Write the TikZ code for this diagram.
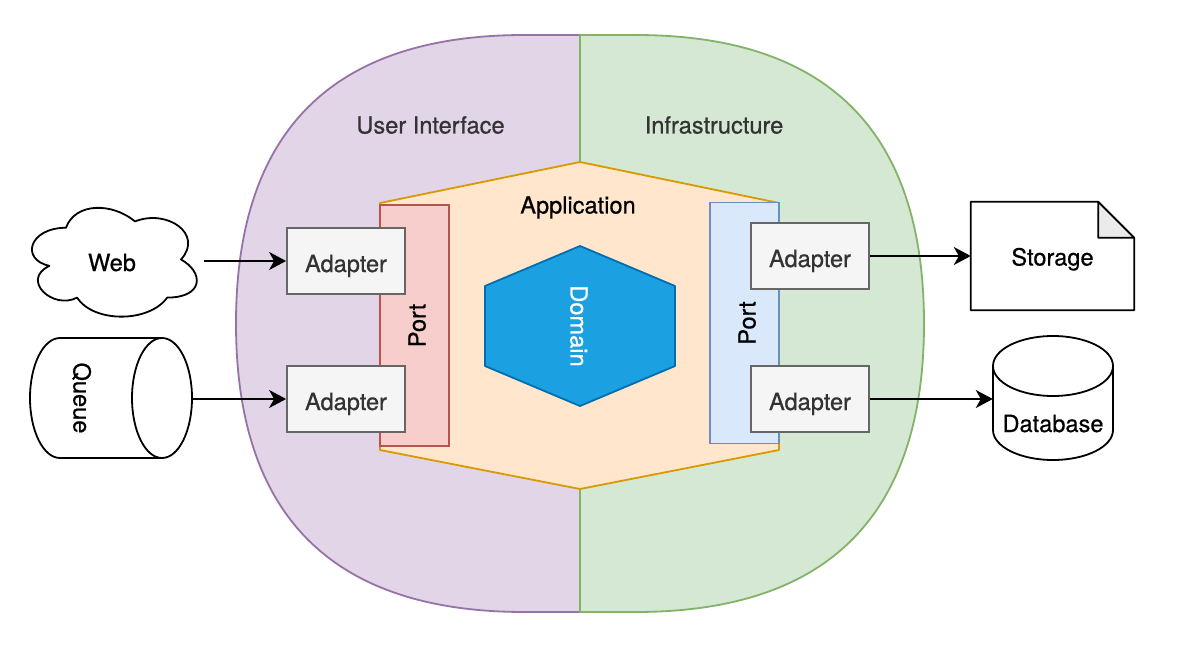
\documentclass[tikz,border=0pt]{standalone}
\usepackage{fontspec}
\setmainfont{TeX Gyre Heros}[FakeBold=0.6]
\usetikzlibrary{arrows.meta}
\definecolor{uiFill}{HTML}{E1D5E7}
\definecolor{uiLine}{HTML}{9673A6}
\definecolor{inFill}{HTML}{D5E8D4}
\definecolor{inLine}{HTML}{82B366}
\definecolor{apFill}{HTML}{FFE6CC}
\definecolor{apLine}{HTML}{D79B00}
\definecolor{prFill}{HTML}{F8CECC}
\definecolor{prLine}{HTML}{B85450}
\definecolor{pbFill}{HTML}{DAE8FC}
\definecolor{pbLine}{HTML}{6C8EBF}
\definecolor{doFill}{HTML}{1BA1E2}
\definecolor{doLine}{HTML}{006EAF}
\definecolor{adFill}{HTML}{F5F5F5}
\definecolor{adLine}{HTML}{666666}
\definecolor{txtGrey}{HTML}{333333}
\definecolor{foldFill}{HTML}{EBEBEB}
\begin{document}
\begin{tikzpicture}[x=1pt,y=-1pt,
  every node/.style={font=\fontsize{23.6pt}{28pt}\selectfont, inner sep=0pt,
    text height=27pt, text depth=5pt},
  shapeline/.style={line width=1.8pt, line join=round},
  adapterbox/.style={draw=adLine, fill=adFill, text=txtGrey, line width=1.8pt,
    minimum width=118pt, minimum height=66pt},
  portbox/.style={line width=1.8pt, minimum width=241pt, minimum height=69pt, rotate=90},
  ghost/.style={draw=none, fill=none},
  arr/.style={line width=2pt, -{Stealth[length=17pt,width=18pt,inset=5pt]}},
  outline/.style={draw=black, line width=1.8pt, fill=white, line join=round}]
\useasboundingbox (0,0) rectangle (1191,647);
\fill[white] (0,0) rectangle (1191,647);

% outer halves
\draw[shapeline, draw=uiLine, fill=uiFill] (580,35) -- (524.5,35)
  .. controls (332.17,35) and (236,131.17) .. (236,323.5)
  .. controls (236,515.83) and (332.17,612) .. (524.5,612) -- (580,612) -- cycle;
\draw[shapeline, draw=inLine, fill=inFill] (580,35) -- (635.5,35)
  .. controls (827.83,35) and (924,131.17) .. (924,323.5)
  .. controls (924,515.83) and (827.83,612) .. (635.5,612) -- (580,612) -- cycle;
\node[text=txtGrey] (ui) at (430.5,122.5) {User Interface};
\node[text=txtGrey] (infra) at (714,122.5) {Infrastructure};

% application hexagon
\draw[shapeline, draw=apLine, fill=apFill] (580,162) -- (779,203) -- (779,450)
  -- (580,489) -- (380,450) -- (380,203) -- cycle;
\node (app) at (578,202.5) {Application};

% ports
\node[portbox, draw=prLine, fill=prFill] (portL) at (414.5,325.5) {Port};
\node[portbox, draw=pbLine, fill=pbFill] (portR) at (744.5,323) {Port};

% domain
\draw[shapeline, draw=doLine, fill=doFill] (580,246) -- (675,286) -- (675,366)
  -- (580,406) -- (485,366) -- (485,286) -- cycle;
\node[text=white, rotate=-90] (domain) at (581.5,326) {Domain};

% adapters
\node[adapterbox] (adL1) at (346,261) {Adapter};
\node[adapterbox] (adL2) at (346,399) {Adapter};
\node[adapterbox] (adR1) at (810,256) {Adapter};
\node[adapterbox] (adR2) at (810,399) {Adapter};

% web cloud
\draw[outline] (66,227.75) .. controls (29.2,227.75) and (20,259.5) .. (49.44,265.85)
  .. controls (20,279.82) and (53.12,310.3) .. (77.04,297.6)
  .. controls (93.6,323) and (148.8,323) .. (167.2,297.6)
  .. controls (204,297.6) and (204,272.2) .. (181,259.5)
  .. controls (204,234.1) and (167.2,208.7) .. (135,221.4)
  .. controls (112,202.35) and (75.2,202.35) .. (66,227.75) -- cycle;
\node[ghost, minimum width=184pt, minimum height=127pt] (web) at (112,260) {Web};

% queue cylinder (horizontal)
\node[ghost, minimum width=162pt, minimum height=120pt] (queue) at (111,398) {};
\draw[outline] (162,338) -- (60,338)
  arc[start angle=90, end angle=270, x radius=30pt, y radius=60pt]
  -- (162,458) arc[start angle=-90, end angle=90, x radius=30pt, y radius=60pt] -- cycle;
\draw[line width=1.8pt] (162,338) arc[start angle=90, end angle=270, x radius=30pt, y radius=60pt];
\node[rotate=-90] (queuetext) at (84.5,398) {Queue};

% storage note
\node[ghost, minimum width=163pt, minimum height=108pt] (storage) at (1052.5,256) {};
\draw[outline] (storage.north west) -- ([xshift=-36pt]storage.north east)
  -- ([yshift=-36pt]storage.north east) -- (storage.south east) -- (storage.south west) -- cycle;
\draw[outline, fill=foldFill] ([xshift=-36pt]storage.north east) -- ([xshift=-36pt,yshift=-36pt]storage.north east)
  -- ([yshift=-36pt]storage.north east) -- cycle;
\node (storagetext) at (1052.5,254.5) {Storage};

% database cylinder
\node[ghost, minimum width=120pt, minimum height=124pt] (db) at (1053,398) {};
\draw[outline] (993,366) -- (993,430)
  arc[start angle=180, end angle=360, x radius=60pt, y radius=30pt]
  -- (1113,366) arc[start angle=0, end angle=180, x radius=60pt, y radius=30pt] -- cycle;
\draw[line width=1.8pt] (993,366) arc[start angle=180, end angle=360, x radius=60pt, y radius=30pt];
\node (dbtext) at (1053,421) {Database};

% connectors
\draw[arr] (web.east |- adL1.west) -- (adL1.west);
\draw[arr] (queue.east |- adL2.west) -- (adL2.west);
\draw[arr] (adR1.east) -- (adR1.east -| storage.west);
\draw[arr] (adR2.east) -- (adR2.east -| db.west);
\end{tikzpicture}
\end{document}
